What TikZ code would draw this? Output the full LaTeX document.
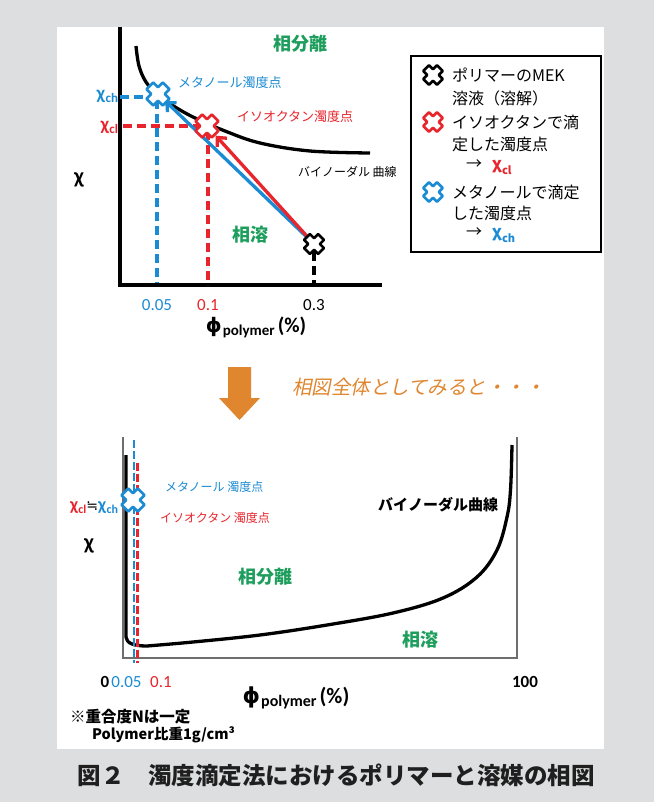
\documentclass[tikz,border=0pt]{standalone}
\usepackage{fontspec}
\setmainfont{Carlito}
\newfontfamily\jp{Noto Sans CJK JP}
\newfontfamily\jpit{Noto Sans CJK JP}[FakeSlant=0.2]
\newfontfamily\dv{DejaVu Sans}
\usetikzlibrary{arrows.meta}
\definecolor{bgg}{HTML}{DDDEE0}
\definecolor{cb}{HTML}{1B8BD3}
\definecolor{cr}{HTML}{E8252C}
\definecolor{cg}{HTML}{1E9E5C}
\definecolor{co}{HTML}{E0862F}
\definecolor{frm}{HTML}{6E6E6E}
\newcommand\fs[1]{\fontsize{#1}{#1}\selectfont}
\newcommand\chis[3]{{\fs{#1}\bfseries χ}\kern0.3pt\raisebox{-0.3em}{\fs{#2}\bfseries #3}}
\newcommand\philab[3]{{\dv\bfseries\fs{#1}ϕ}\kern1pt\raisebox{-0.3em}{\bfseries\fs{#2}polymer}\kern3pt{\bfseries\fs{#3}(\%)}}
\tikzset{
  pics/xm/.style={code={\draw[draw=#1, fill=white, line width=2.6pt, line join=round, rotate=45]
    (4.8,11.5)--(4.8,4.8)--(11.5,4.8)--(11.5,-4.8)--(4.8,-4.8)--(4.8,-11.5)--(-4.8,-11.5)--(-4.8,-4.8)
    --(-11.5,-4.8)--(-11.5,4.8)--(-4.8,4.8)--(-4.8,11.5)--cycle;}},
  lbl/.style={inner sep=0pt, outer sep=0pt},
  axisline/.style={line width=3.8pt, black},
  curveline/.style={line width=3.3pt, black, line join=round},
  dsh/.style={line width=3.3pt, dash pattern=on 9pt off 5pt},
  dshb/.style={line width=2.8pt, dash pattern=on 8pt off 3pt},
  arr/.style={line width=3.3pt, -{Straight Barb[length=7pt,width=13pt]}},
  greenlbl/.style={lbl, text=cg, font=\jp\bfseries\fs{18}},
  leglbl/.style={lbl, anchor=west, font=\jp\fs{16}},
  tick/.style={lbl, font=\fs{17}},
}
\begin{document}
\begin{tikzpicture}[x=1pt,y=-1pt]
\useasboundingbox (0,0) rectangle (654,802);
\fill[bgg] (0,0) rectangle (654,802);
\fill[white] (57,27) rectangle (604,749);

% ---------- top plot ----------
\coordinate (ytop) at (120,27);
\coordinate (orig) at (120,285);
\coordinate (xend) at (382,285);
\draw[axisline] (ytop) -- (orig) -- (xend);
\draw[curveline] plot[smooth, tension=0.6] coordinates
  {(136,46) (139,66) (146,82) (157,94) (172,105) (193,117) (225,131) (260,143) (310,151) (370,153)};

\coordinate (k) at (314,244);
\coordinate (bx) at (158,94);
\coordinate (rx) at (207,126);
\coordinate (bxl) at (120,97);
\coordinate (bxr) at (147,97);
\coordinate (bxt) at (157,100);
\coordinate (bxb) at (157,283);
\coordinate (rxl) at (123,126);
\coordinate (rxr) at (198,126);
\coordinate (rxt) at (208,131);
\coordinate (rxb) at (208,285);
\coordinate (kt) at (314,252);
\coordinate (kb) at (314,284);
\draw[dsh, cb] (bxl) -- (bxr);
\draw[dsh, cb] (bxt) -- (bxb);
\draw[dsh, cr] (rxl) -- (rxr);
\draw[dsh, cr] (rxt) -- (rxb);
\draw[dsh, black] (kt) -- (kb);

\draw[arr, cb, shorten >=10pt] (k) -- (bx);
\draw[arr, cr, shorten >=13pt] (k) -- (rx);

\pic at (bx) {xm=cb};
\pic at (rx) {xm=cr};
\pic[scale=0.86] at (k) {xm=black};

\node[lbl, anchor=west, text=cb, font=\jp\fs{13}] (mlab) at (178,83) {メタノール濁度点};
\node[lbl, anchor=west, text=cr, font=\jp\fs{13}] (ilab) at (237,117) {イソオクタン濁度点};
\node[lbl, anchor=west, font=\jp\fs{12}] (bin1) at (298,172) {バイノーダル 曲線};
\node[greenlbl] (sb1) at (300,44) {相分離};
\node[greenlbl] (sy1) at (250,235) {相溶};
\node[lbl, font=\bfseries\fs{22}] (chi1) at (79,180) {χ};
\node[lbl, anchor=east, text=cb] (chch) at (118,96) {\chis{19}{13}{ch}};
\node[lbl, anchor=east, text=cr] (chcl) at (118,127) {\chis{19}{13}{cl}};
\node[tick, text=cb] (t1) at (157,305) {0.05};
\node[tick, text=cr] (t2) at (208,305) {0.1};
\node[tick] (t3) at (314,305) {0.3};
\node[lbl] (phi1) at (256,327) {\philab{20}{15}{21}};

% legend
\node[draw, line width=2pt, minimum width=190pt, minimum height=196pt, anchor=north west, inner sep=0pt] (leg) at (410,55) {};
\pic[scale=0.85] at (433,75) {xm=black};
\pic[scale=0.85] at (433,122) {xm=cr};
\pic[scale=0.85] at (433,192) {xm=cb};
\node[leglbl] (l1) at (452,75) {ポリマーのMEK};
\node[leglbl] (l2) at (452,98) {溶液（溶解）};
\node[leglbl] (l3) at (452,122) {イソオクタンで滴};
\node[leglbl] (l4) at (452,144) {定した濁度点};
\node[leglbl] (l5) at (466,167) {→\hspace{10pt}\textcolor{cr}{\chis{16}{11}{cl}}};
\node[leglbl] (l6) at (452,192) {メタノールで滴定};
\node[leglbl] (l7) at (452,213) {した濁度点};
\node[leglbl] (l8) at (466,235) {→\hspace{10pt}\textcolor{cb}{\chis{16}{11}{ch}}};

% ---------- middle ----------
\fill[co] (228,367) -- (251,367) -- (251,398) -- (260,398) -- (239.5,420) -- (219,398) -- (228,398) -- cycle;
\node[lbl, anchor=west, text=co, font=\jpit\fs{19.5}] (ot) at (292,387) {相図全体としてみると・・・};

% ---------- bottom plot ----------
\coordinate (f1) at (123,437);
\coordinate (f2) at (123,658);
\coordinate (f3) at (517,658);
\coordinate (f4) at (517,437);
\draw[frm, line width=1.4pt] (f1) -- (f2) -- (f3) -- (f4);
\draw[curveline] (126,455) -- (126,637) .. controls (126.5,643) and (133,646) .. (147,646)
  -- plot[smooth, tension=0.6] coordinates
  {(147,646) (193,642) (260,635) (327,625) (393,613) (443,598) (477,577) (497,550) (507,517) (510.5,490) (512,445)};
\coordinate (bdt) at (134,440);
\coordinate (bdb) at (134,663);
\coordinate (rdt) at (137.5,463);
\coordinate (rdb) at (137.5,663);
\draw[dshb, cb] (bdt) -- (bdb);
\draw[dshb, cr] (rdt) -- (rdb);
\coordinate (bx2) at (133,500);
\pic at (bx2) {xm=cb};

\node[lbl, anchor=east] (chib) at (118,508) {\textcolor{cr}{\chis{18}{12}{cl}}{\dv\fs{14}≒}\textcolor{cb}{\chis{18}{12}{ch}}};
\node[lbl, anchor=west, text=cb, font=\jp\fs{12}] (mlab2) at (165,487) {メタノール 濁度点};
\node[lbl, anchor=west, text=cr, font=\jp\fs{12}] (ilab2) at (160,518) {イソオクタン 濁度点};
\node[lbl, anchor=west, font=\jp\bfseries\fs{15}] (bin2) at (378,505) {バイノーダル曲線};
\node[lbl, font=\bfseries\fs{22}] (chi2) at (89,546) {χ};
\node[greenlbl] (sb2) at (265,577) {相分離};
\node[greenlbl] (sy2) at (420,640) {相溶};
\node[tick, font=\bfseries\fs{17}] (u0) at (105,682) {0};
\node[tick, text=cb] (u1) at (126.5,682) {0.05};
\node[tick, text=cr] (u2) at (161,682) {0.1};
\node[tick, font=\bfseries\fs{17}] (u3) at (525,682) {100};
\node[lbl] (phi2) at (296,698) {\philab{22}{16}{22}};
\node[lbl, anchor=west, font=\jp\bfseries\fs{15.5}] (n1) at (70,717) {※重合度Nは一定};
\node[lbl, anchor=west, font=\jp\bfseries\fs{14.5}] (n2) at (92,735) {Polymer比重1g/cm³};

% caption
\node[lbl, text=black!88, font=\jp\bfseries\fs{23.5}] (cap) at (336,775) {図２　濁度滴定法におけるポリマーと溶媒の相図};
\end{tikzpicture}
\end{document}
